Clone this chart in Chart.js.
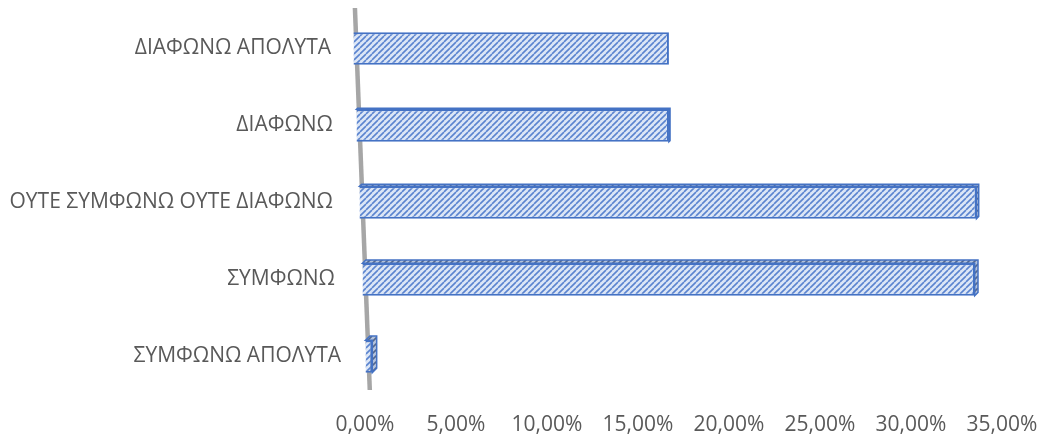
<!DOCTYPE html>
<html>
<head>
<meta charset="utf-8">
<script src="https://cdn.jsdelivr.net/npm/chart.js@4/dist/chart.umd.min.js"></script>
<style>
html,body{margin:0;padding:0;background:#fff;}
#wrap{width:1043px;height:436px;position:relative;}
</style>
</head>
<body>
<div id="wrap"><canvas id="c" width="1043" height="436"></canvas></div>
<script>
const categories = ["ΔΙΑΦΩΝΩ ΑΠΟΛΥΤΑ", "ΔΙΑΦΩΝΩ", "ΟΥΤΕ ΣΥΜΦΩΝΩ ΟΥΤΕ ΔΙΑΦΩΝΩ", "ΣΥΜΦΩΝΩ", "ΣΥΜΦΩΝΩ ΑΠΟΛΥΤΑ"];
const values = [16.7, 16.7, 33.6, 33.5, 0.4];
const xTicks = [0, 5, 10, 15, 20, 25, 30, 35];

function makePattern(bg, fg) {
  const size = 6;
  const p = document.createElement('canvas');
  p.width = size; p.height = size;
  const g = p.getContext('2d');
  g.fillStyle = bg;
  g.fillRect(0, 0, size, size);
  g.strokeStyle = fg;
  g.lineWidth = 1.6;
  g.beginPath();
  for (let k = -1; k <= 1; k++) {
    g.moveTo(k * size, size);
    g.lineTo(k * size + size, 0);
  }
  g.stroke();
  return document.getElementById('c').getContext('2d').createPattern(p, 'repeat');
}
const frontPattern = makePattern('#dce6f6', '#5b84cf');
const topPattern = makePattern('#b4c3dc', '#51678f');

// slanted "3D" wall line: x position as a function of y
function slantX(chart, y) {
  const x0 = chart.scales.x.getPixelForValue(0);
  const top = chart.chartArea.top, bottom = chart.chartArea.bottom;
  const t = (y - top) / (bottom - top);
  return x0 - 13 + t * 15;
}

const slantAxis = {
  id: 'slantAxis',
  beforeDatasetsDraw(chart) {
    const meta = chart.getDatasetMeta(0);
    meta.data.forEach(el => { el.base = slantX(chart, el.y); });
    const ctx = chart.ctx;
    const top = chart.chartArea.top - 2;
    const bottom = chart.chartArea.bottom - 5;
    ctx.save();
    ctx.strokeStyle = '#a6a6a6';
    ctx.lineWidth = 4.5;
    ctx.beginPath();
    ctx.moveTo(slantX(chart, top) + 3, top);
    ctx.lineTo(slantX(chart, bottom) + 3, bottom);
    ctx.stroke();
    ctx.restore();
  },
  afterDatasetsDraw(chart) {
    const ctx = chart.ctx;
    const meta = chart.getDatasetMeta(0);
    meta.data.forEach((el, i) => {
      const d = i * 1.1;
      if (d < 0.5) return;
      const h = el.height;
      const L = el.base, R = el.x, T = el.y - h / 2, B = el.y + h / 2;
      ctx.save();
      ctx.fillStyle = topPattern;
      ctx.strokeStyle = '#4472c4';
      ctx.lineWidth = 1.5;
      ctx.beginPath();
      ctx.moveTo(L, T);
      ctx.lineTo(L + d, T - d);
      ctx.lineTo(R + d, T - d);
      ctx.lineTo(R + d, B - d);
      ctx.lineTo(R, B);
      ctx.lineTo(R, T);
      ctx.closePath();
      ctx.fill();
      ctx.stroke();
      ctx.restore();
    });
  }
};

const yShift = [-2, 0, 0, 2, 8];
const fam = "'Open Sans', 'DejaVu Sans', sans-serif";

new Chart(document.getElementById('c'), {
  type: 'bar',
  data: {
    labels: categories,
    datasets: [{
      data: values,
      backgroundColor: frontPattern,
      borderColor: '#4472c4',
      borderWidth: 2,
      barPercentage: 0.42,
      categoryPercentage: 1.0,
      clip: false
    }]
  },
  options: {
    indexAxis: 'y',
    responsive: false,
    animation: false,
    layout: { padding: { top: 10, right: 41, left: 0, bottom: 0 } },
    plugins: { legend: { display: false }, tooltip: { enabled: false } },
    scales: {
      x: {
        min: 0, max: 35,
        afterBuildTicks(s) { s.ticks = xTicks.map(v => ({ value: v })); },
        afterFit(s) { s.height = 41; s.paddingLeft = 0; s.paddingRight = 0; },
        grid: { display: false, drawTicks: false },
        border: { display: false },
        ticks: {
          padding: 17,
          color: '#595959',
          font: { family: fam, size: 21 },
          callback: v => v.toFixed(2).replace('.', ',') + '%'
        }
      },
      y: {
        afterFit(s) { s.width = 365; s.paddingTop = 0; s.paddingBottom = 0; },
        afterUpdate(s) {
          const orig = s.getLabelItems.bind(s);
          s.getLabelItems = (ca) => {
            const items = orig(ca);
            items.forEach((it, i) => {
              if (!it._adj) { it.options.translation[0] += yShift[i] || 0; it._adj = true; }
            });
            return items;
          };
        },
        grid: { display: false, drawTicks: false },
        border: { display: false },
        ticks: { padding: 32, color: '#595959', font: { family: fam, size: 21 } }
      }
    }
  },
  plugins: [slantAxis]
});
</script>
</body>
</html>
